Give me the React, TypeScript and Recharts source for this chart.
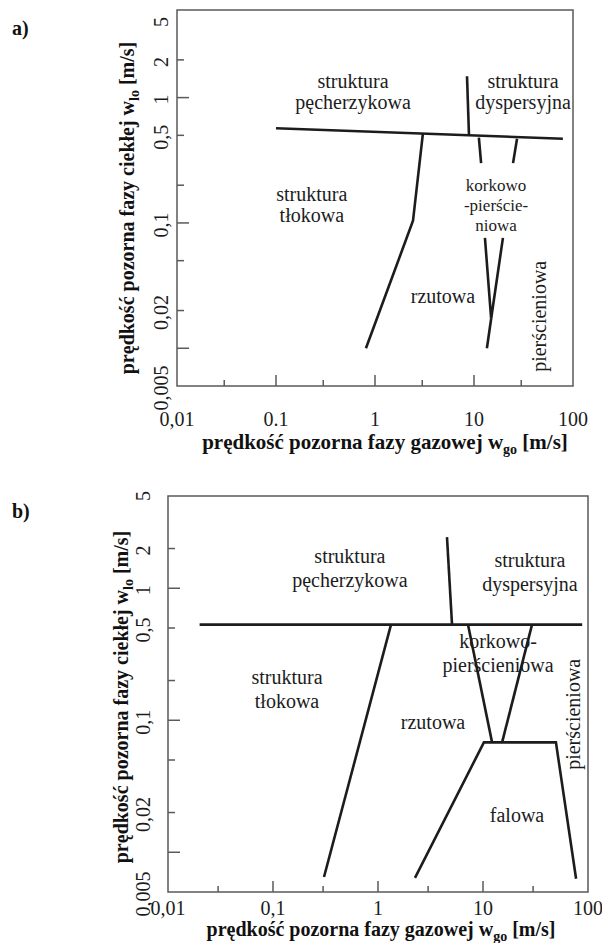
import React from 'react';
import { ComposedChart, Line, Scatter, XAxis, YAxis, ReferenceArea, Label } from 'recharts';

const FONT = "'Liberation Serif', 'DejaVu Serif', serif";
const INK = '#1c1c1c';
const FRAME = '#5a5a5a';
const txt = (size: number, bold = false): React.CSSProperties => ({
  fontFamily: FONT, fontSize: size, fontWeight: bold ? 700 : 400,
});

// log axes: gas 0.01–100 m/s, liquid 0.005–5 m/s
const xTicks = [0.01, 0.03, 0.1, 0.3, 1, 3, 10, 30, 100];
const yTicks = [5, 2, 1, 0.5, 0.2, 0.1, 0.05, 0.02, 0.01, 0.005];
const majorTicks = [0.01, 0.1, 1, 10];
const xLabelsA: Record<string, string> = { '0.01': '0,01', '0.1': '0.1', '1': '1', '10': '10', '100': '100' };
const xLabelsB: Record<string, string> = { '0.01': '0,01', '0.1': '0,1', '1': '1', '10': '10', '100': '100' };
const yLabels: Record<string, string> = { '5': '5', '2': '2', '1': '1', '0.5': '0,5', '0.1': '0,1', '0.02': '0,02', '0.005': '0,005' };

// a) flow pattern boundaries
const aBubble = [{ x: 0.1, y: 0.57 }, { x: 79, y: 0.47 }];
const aDispersed = [{ x: 8.5, y: 1.48 }, { x: 8.9, y: 0.5 }];
const aSlug = [{ x: 3.05, y: 0.52 }, { x: 2.42, y: 0.104 }, { x: 0.81, y: 0.01 }];
const aChurnL = [{ x: 11.2, y: 0.48 }, { x: 11.8, y: 0.3 }];
const aChurnR = [{ x: 27.2, y: 0.47 }, { x: 24.8, y: 0.3 }];
const aVee = [{ x: 12.9, y: 0.076 }, { x: 14.9, y: 0.0172 }, { x: 19.6, y: 0.076 }];
const aStem = [{ x: 14.9, y: 0.0172 }, { x: 13.5, y: 0.01 }];

const aNotes = [
  { x: 0.6, y: 1.19, text: ['struktura', 'pęcherzykowa'] },
  { x: 31.3, y: 1.19, text: ['struktura', 'dyspersyjna'] },
  { x: 0.23, y: 0.151, text: ['struktura', 'tłokowa'] },
  { x: 4.86, y: 0.023, text: ['rzutowa'] },
];
const aSmallNotes = [{ x: 16.7, y: 0.18, text: ['korkowo', '-pierście-', 'niowa'] }];
const aSideNote = [{ x: 53, y: 0.018, text: ['pierścieniowa'] }];

// b) flow pattern boundaries
const bBubble = [{ x: 0.02, y: 0.53 }, { x: 88, y: 0.53 }];
const bDispersed = [{ x: 4.54, y: 2.44 }, { x: 5.07, y: 0.53 }];
const bSlug = [{ x: 1.33, y: 0.53 }, { x: 0.306, y: 0.0065 }];
const bChurnL = [{ x: 7.2, y: 0.53 }, { x: 12.2, y: 0.068 }];
const bChurnR = [{ x: 29.3, y: 0.53 }, { x: 15.2, y: 0.068 }];
const bWavy = [{ x: 2.25, y: 0.0064 }, { x: 10.2, y: 0.068 }, { x: 49.5, y: 0.068 }, { x: 77, y: 0.0063 }];

const bNotes = [
  { x: 0.54, y: 1.55, text: ['struktura', 'pęcherzykowa'] },
  { x: 28, y: 1.45, text: ['struktura', 'dyspersyjna'] },
  { x: 0.136, y: 0.188, text: ['struktura', 'tłokowa'] },
  { x: 13.9, y: 0.352, text: ['korkowo-', 'pierścieniowa'] },
  { x: 3.34, y: 0.086, text: ['rzutowa'] },
  { x: 21.1, y: 0.017, text: ['falowa'] },
];
const bSideNote = [{ x: 84, y: 0.111, text: ['pierścieniowa'] }];

function XTick(props: any) {
  const { x, y, payload, labels, labelDy } = props;
  const v = payload.value;
  const len = majorTicks.includes(v) ? 11 : 6;
  const lab = labels[String(v)];
  return (
    <g>
      {v !== 0.01 && v !== 100 && <line x1={x} y1={y} x2={x} y2={y - len} stroke={FRAME} strokeWidth={1.5} />}
      {lab && (
        <text x={x} y={y + labelDy} textAnchor="middle" style={txt(20)} fill={INK}>
          {lab}
        </text>
      )}
    </g>
  );
}

function YTick(props: any) {
  const { x, y, payload, gap, topShift } = props;
  const v = payload.value;
  const len = majorTicks.includes(v) ? 12 : 7;
  const lab = yLabels[String(v)];
  const ty = y + (v === 5 ? topShift : 2);
  const tx = x - gap;
  return (
    <g>
      {v !== 5 && v !== 0.005 && <line x1={x} y1={y} x2={x + len} y2={y} stroke={FRAME} strokeWidth={1.5} />}
      {lab && (
        <text x={tx} y={ty} transform={`rotate(-90 ${tx} ${ty})`} textAnchor="middle"
          style={txt(20)} fill={INK}>
          {lab}
        </text>
      )}
    </g>
  );
}

const noteShape = (size: number, lineGap: number) => (p: any) => (
  <text x={p.cx} y={p.cy} textAnchor="middle" style={txt(size)} fill={INK}>
    {p.payload.text.map((t: string, i: number) => (
      <tspan key={i} x={p.cx} dy={i ? lineGap : 0}>{t}</tspan>
    ))}
  </text>
);

const sideShape = (p: any) => (
  <text x={p.cx} y={p.cy} transform={`rotate(-90 ${p.cx} ${p.cy})`} textAnchor="middle"
    style={txt(20)} fill={INK}>
    {p.payload.text[0]}
  </text>
);

function Panel(props: any) {
  const { top, height, margin, yWidth, xHeight, lines, notes, smallNotes, sideNote,
    xLabels, xLabelDy, xTitleDx, xTitleDy, xTitleSize, yGap, yTopShift, yTitleX, yTitleDy, lineGap } = props;
  return (
    <div style={{ position: 'absolute', left: 0, top, width: 602, height }}>
      <ComposedChart width={602} height={height} margin={margin}>
        <XAxis dataKey="x" type="number" scale="log" domain={[0.01, 100]} ticks={xTicks} interval={0}
          height={xHeight} axisLine={false} tickLine={false} tickSize={0} tickMargin={0}
          tick={(p: any) => <XTick {...p} labels={xLabels} labelDy={xLabelDy} />}>
          <Label content={(lp: any) => {
            const vb = lp.viewBox;
            return (
              <text x={vb.x + vb.width / 2 + xTitleDx} y={vb.y + xTitleDy} textAnchor="middle"
                style={txt(xTitleSize, true)} fill="#111">
                prędkość pozorna fazy gazowej w
                <tspan style={{ fontSize: 14 }} dy={5}>go</tspan>
                <tspan dy={-5}> [m/s]</tspan>
              </text>
            );
          }} />
        </XAxis>
        <YAxis type="number" scale="log" domain={[0.005, 5]} ticks={yTicks} interval={0}
          width={yWidth} axisLine={false} tickLine={false} tickSize={0} tickMargin={0}
          tick={(p: any) => <YTick {...p} gap={yGap} topShift={yTopShift} />}>
          <Label content={(lp: any) => {
            const vb = lp.viewBox;
            const cy = vb.y + vb.height / 2 + yTitleDy;
            return (
              <text x={yTitleX} y={cy} transform={`rotate(-90 ${yTitleX} ${cy})`} textAnchor="middle"
                style={txt(20, true)} fill="#111">
                prędkość pozorna fazy ciekłej w
                <tspan style={{ fontSize: 14 }} dy={5}>lo</tspan>
                <tspan dy={-5}> [m/s]</tspan>
              </text>
            );
          }} />
        </YAxis>
        <ReferenceArea x1={0.01} x2={100} y1={0.005} y2={5} fill="none" stroke={FRAME}
          strokeWidth={1.5} ifOverflow="visible" />
        {lines.map((d: any, i: number) => (
          <Line key={i} data={d} dataKey="y" type="linear" stroke={INK} strokeWidth={2.6}
            dot={false} activeDot={false} isAnimationActive={false} />
        ))}
        <Scatter data={notes} dataKey="y" shape={noteShape(20, lineGap)} isAnimationActive={false} />
        {smallNotes && (
          <Scatter data={smallNotes} dataKey="y" shape={noteShape(17, 20)} isAnimationActive={false} />
        )}
        <Scatter data={sideNote} dataKey="y" shape={sideShape} isAnimationActive={false} />
      </ComposedChart>
    </div>
  );
}

export default function App() {
  return (
    <div style={{ position: 'absolute', left: 0, top: 0, width: 602, height: 943, background: '#fff' }}>
      <svg width={602} height={943} style={{ position: 'absolute', left: 0, top: 0 }}>
        <text x={12} y={35} style={txt(20, true)} fill="#111">a)</text>
        <text x={12} y={518} style={txt(20, true)} fill="#111">b)</text>
      </svg>
      <Panel top={0} height={470} margin={{ top: 10, right: 29, bottom: 0, left: 0 }}
        yWidth={177} xHeight={84}
        lines={[aBubble, aDispersed, aSlug, aChurnL, aChurnR, aVee, aStem]}
        notes={aNotes} smallNotes={aSmallNotes} sideNote={aSideNote} lineGap={21}
        xLabels={xLabelsA} xLabelDy={40} xTitleDx={10} xTitleDy={63} xTitleSize={21}
        yGap={9} yTopShift={12} yTitleX={134} yTitleDy={10} />
      <Panel top={470} height={473} margin={{ top: 26, right: 14, bottom: 0, left: 0 }}
        yWidth={168} xHeight={51}
        lines={[bBubble, bDispersed, bSlug, bChurnL, bChurnR, bWavy]}
        notes={bNotes} sideNote={bSideNote} lineGap={24}
        xLabels={xLabelsB} xLabelDy={23} xTitleDx={3} xTitleDy={44} xTitleSize={20}
        yGap={18} yTopShift={0} yTitleX={128} yTitleDy={3} />
    </div>
  );
}
